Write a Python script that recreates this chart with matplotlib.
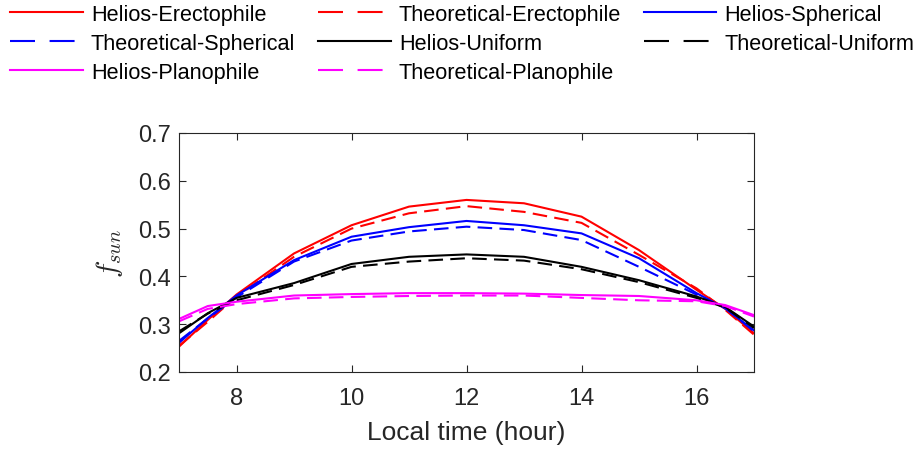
import matplotlib
matplotlib.use("Agg")
import matplotlib.pyplot as plt
from matplotlib.lines import Line2D

plt.rcParams["font.family"] = ["Liberation Sans", "DejaVu Sans"]
plt.rcParams["mathtext.fontset"] = "cm"

hours = [7, 7.5, 8, 9, 10, 11, 12, 13, 14, 15, 16, 16.5, 17]

helios_erect = [0.253, 0.309, 0.362, 0.448, 0.507, 0.546, 0.560, 0.553, 0.525, 0.455, 0.372, 0.332, 0.281]
theo_erect = [0.255, 0.305, 0.358, 0.441, 0.500, 0.532, 0.547, 0.535, 0.512, 0.445, 0.375, 0.330, 0.278]
helios_sph = [0.261, 0.313, 0.360, 0.434, 0.483, 0.503, 0.516, 0.507, 0.490, 0.438, 0.365, 0.333, 0.287]
theo_sph = [0.265, 0.312, 0.356, 0.431, 0.475, 0.494, 0.504, 0.497, 0.476, 0.420, 0.362, 0.334, 0.285]
helios_unif = [0.281, 0.323, 0.355, 0.386, 0.426, 0.441, 0.446, 0.441, 0.420, 0.392, 0.358, 0.336, 0.295]
theo_unif = [0.285, 0.322, 0.350, 0.382, 0.420, 0.431, 0.438, 0.433, 0.415, 0.388, 0.355, 0.335, 0.292]
helios_plan = [0.311, 0.338, 0.347, 0.360, 0.363, 0.365, 0.365, 0.364, 0.361, 0.359, 0.350, 0.340, 0.319]
theo_plan = [0.306, 0.332, 0.342, 0.354, 0.357, 0.359, 0.360, 0.360, 0.355, 0.350, 0.348, 0.338, 0.316]

series = [
    ("Helios-Erectophile", helios_erect, "#ff0000", "-"),
    ("Theoretical-Erectophile", theo_erect, "#ff0000", "--"),
    ("Helios-Spherical", helios_sph, "#0000ff", "-"),
    ("Theoretical-Spherical", theo_sph, "#0000ff", "--"),
    ("Helios-Uniform", helios_unif, "#000000", "-"),
    ("Theoretical-Uniform", theo_unif, "#000000", "--"),
    ("Helios-Planophile", helios_plan, "#ff00ff", "-"),
    ("Theoretical-Planophile", theo_plan, "#ff00ff", "--"),
]

DARK = "#262626"

fig = plt.figure(figsize=(9.14, 4.52), dpi=100)
ax = fig.add_axes([179 / 914, 1 - 373 / 452, 575 / 914, 239 / 452])

proxies = []
for label, vals, color, ls in series:
    line, = ax.plot(hours, vals, color=color, linestyle=ls, linewidth=1.5)
    p = Line2D([], [], color=color, linestyle=ls, linewidth=1.5, label=label)
    if ls == "--":
        line.set_dashes((7, 3.5))
        p.set_dashes((12, 7))
    proxies.append(p)

ax.set_xlim(7, 17)
ax.set_ylim(0.2, 0.7)
ax.set_xticks([8, 10, 12, 14, 16])
ax.set_yticks([0.2, 0.3, 0.4, 0.5, 0.6, 0.7])
ax.tick_params(direction="in", top=True, right=True, labelsize=17, colors=DARK, length=5, width=0.8)
ax.tick_params(axis="x", pad=11)
ax.tick_params(axis="y", pad=6)
for sp in ax.spines.values():
    sp.set_color(DARK)
    sp.set_linewidth(0.8)
ax.set_xlabel("Local time (hour)", fontsize=19, color=DARK, labelpad=8)
ax.set_ylabel(r"$f_{sun}$", fontsize=21, color=DARK, labelpad=9.5)

# reorder so the legend fills row by row (3 columns)
ncol = 3
order = []
for c in range(ncol):
    order.extend(range(c, len(proxies), ncol))
handles = [proxies[i] for i in order]

fig.legend(handles=handles, loc="upper left", bbox_to_anchor=(10 / 914, 1 - 5 / 452), ncol=ncol,
           frameon=False, fontsize=15.6, handlelength=3.35, handletextpad=0.38,
           columnspacing=1.05, labelspacing=0.36, borderaxespad=0, borderpad=0)

fig.savefig("out.png", dpi=100)
